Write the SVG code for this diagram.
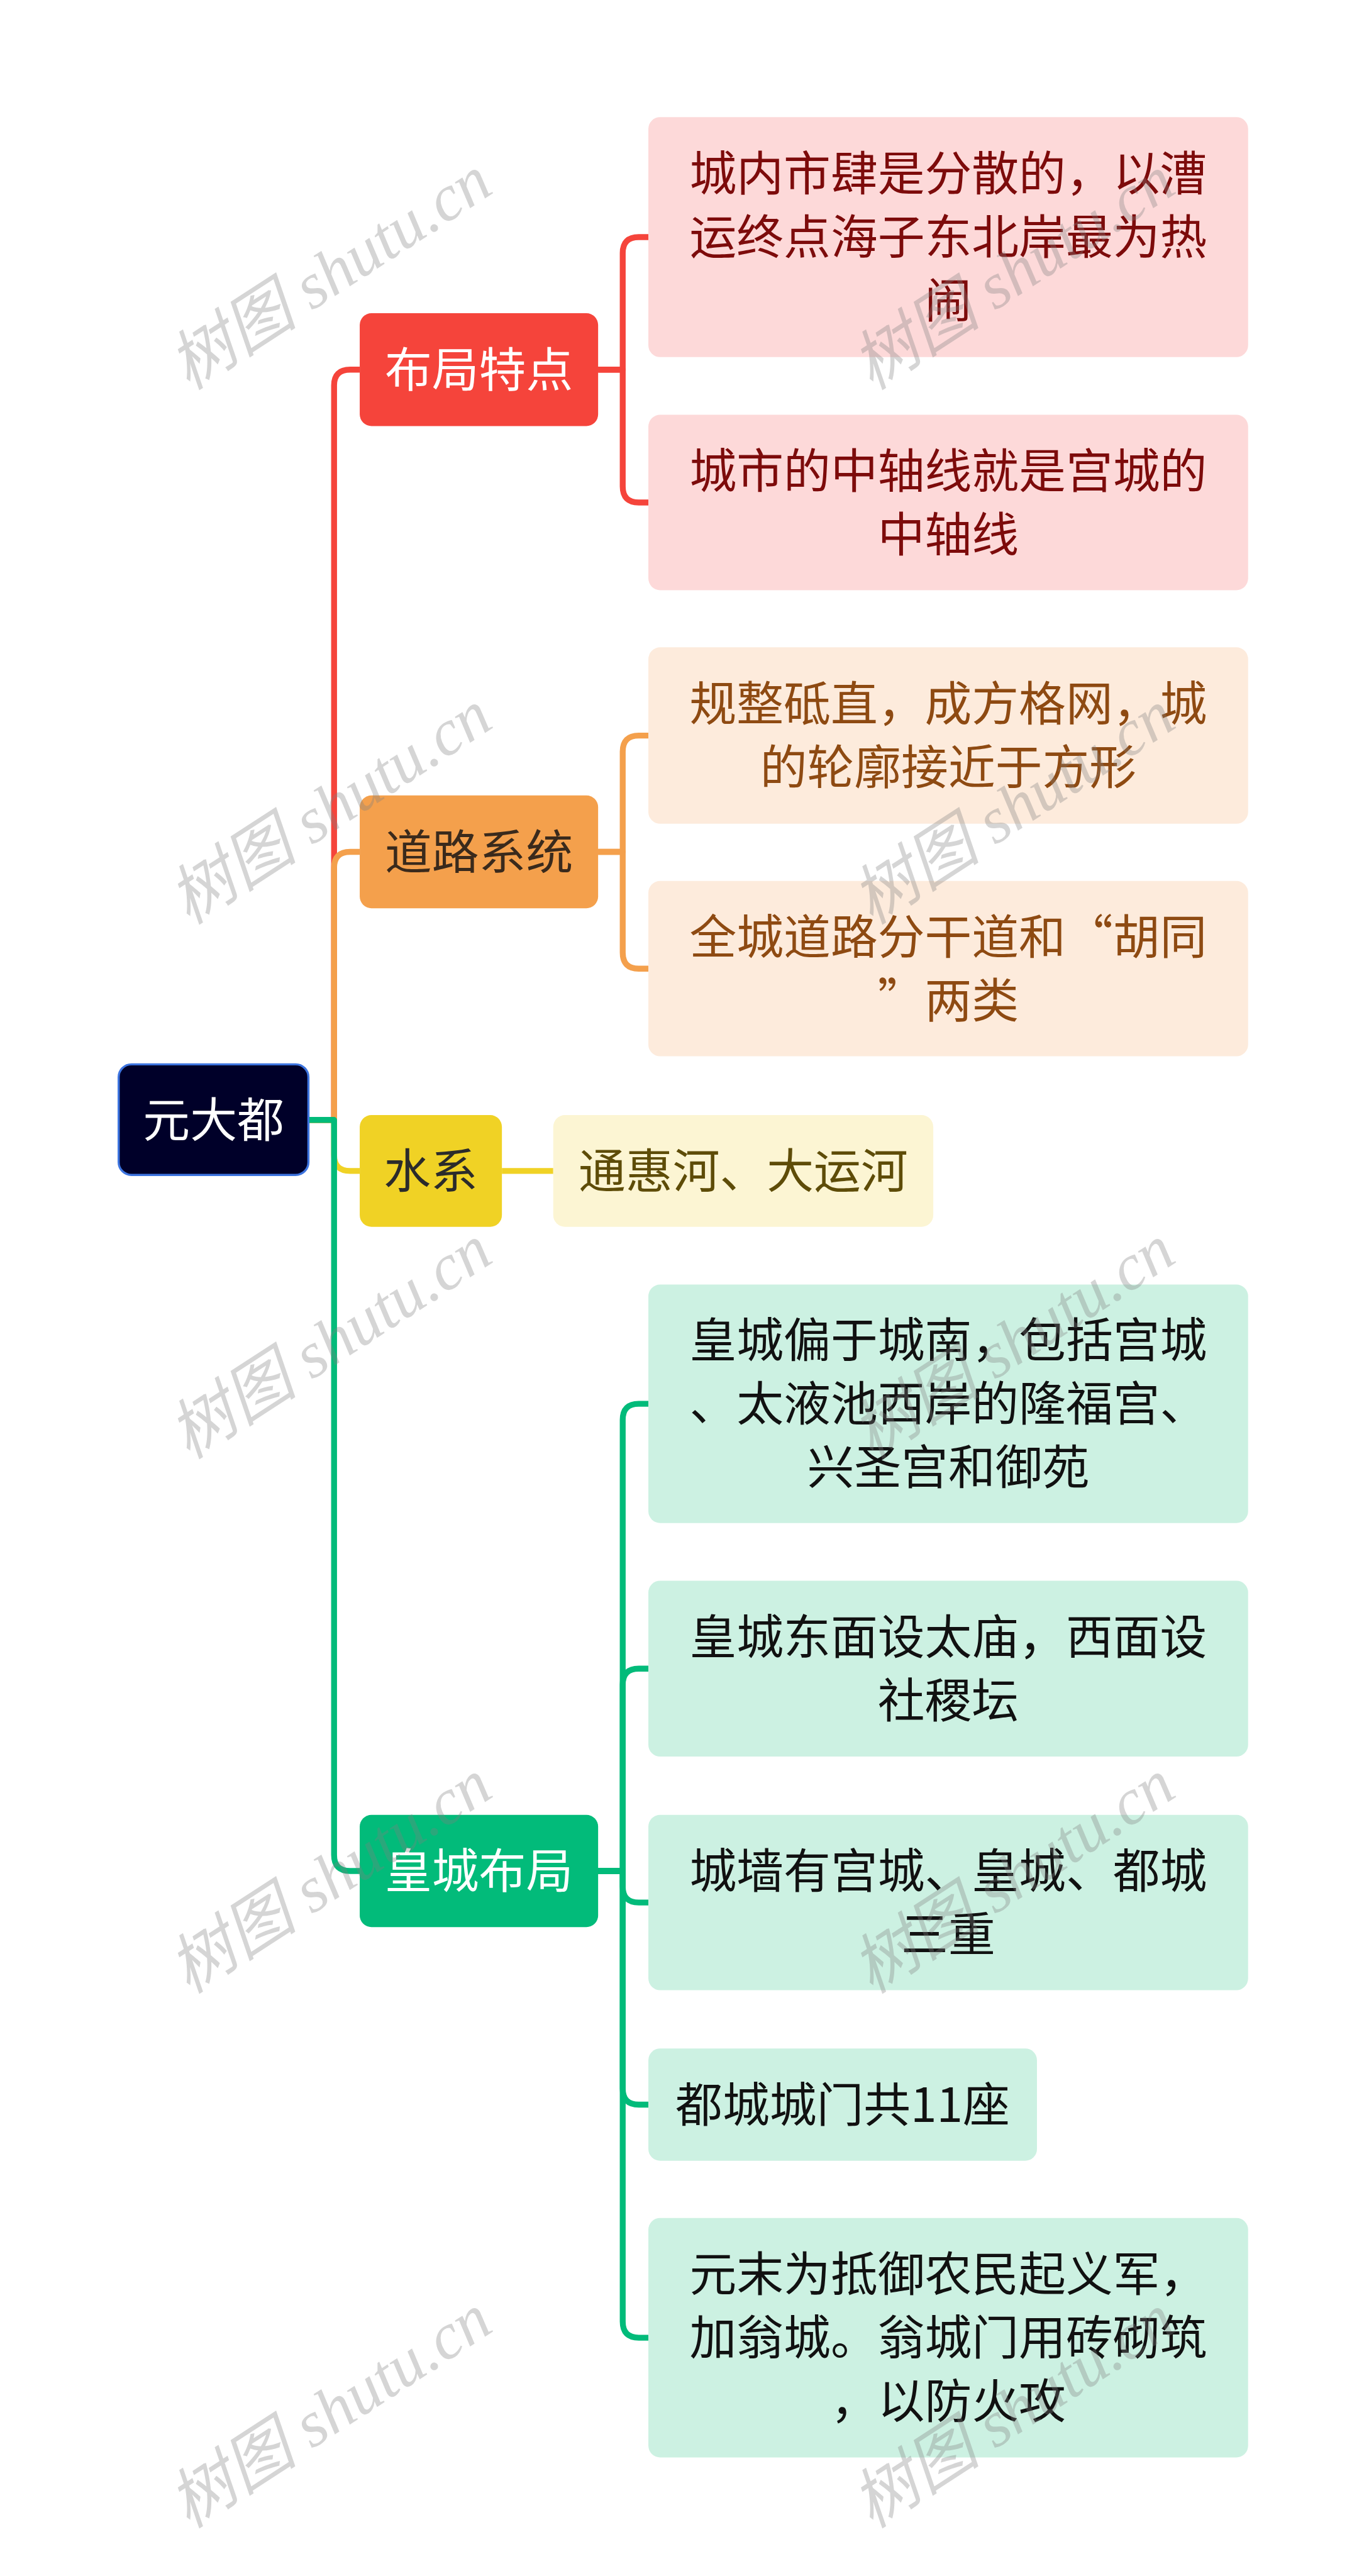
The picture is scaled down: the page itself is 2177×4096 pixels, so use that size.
<svg xmlns="http://www.w3.org/2000/svg" width="2177" height="4096" viewBox="0 0 2177 4096">
<style>
.t{font-family:"Noto Sans CJK SC","Noto Sans",sans-serif;font-size:88px;text-anchor:middle}
.c{fill:none;stroke-width:11;stroke-linejoin:round}
.wm{font-family:"Liberation Serif","Noto Sans CJK SC",serif;font-style:italic;font-size:122px;fill:#808080;fill-opacity:0.33;text-anchor:middle}
</style>
<rect width="2177" height="4096" fill="#ffffff"/>
<g transform="scale(0.85)">
<g id="connectors">
<path class="c" stroke="#F5443B" d="M578 2095H625V721Q625 691.5 655 691.5H673"/>
<path class="c" stroke="#F4A04C" d="M578 2095H625V1623.5Q625 1593.5 655 1593.5H673"/>
<path class="c" stroke="#F0D225" d="M578 2095H625V2160.5Q625 2190.5 655 2190.5H673"/>
<path class="c" stroke="#02BB7A" d="M578 2095H625V3470Q625 3500 655 3500H673"/>
<path class="c" stroke="#F5443B" d="M1119 691.5H1165V473.5Q1165 443.5 1195 443.5H1213"/>
<path class="c" stroke="#F5443B" d="M1119 691.5H1165V910Q1165 940 1195 940H1213"/>
<path class="c" stroke="#F4A04C" d="M1119 1593.5H1165V1406Q1165 1376 1195 1376H1213"/>
<path class="c" stroke="#F4A04C" d="M1119 1593.5H1165V1782Q1165 1812 1195 1812H1213"/>
<path class="c" stroke="#F0D225" d="M939 2190.5H1035"/>
<path class="c" stroke="#02BB7A" d="M1119 3500H1165V2656Q1165 2626 1195 2626H1213"/>
<path class="c" stroke="#02BB7A" d="M1119 3500H1165V3151.5Q1165 3121.5 1195 3121.5H1213"/>
<path class="c" stroke="#02BB7A" d="M1119 3500H1165V3529Q1165 3559 1195 3559H1213"/>
<path class="c" stroke="#02BB7A" d="M1119 3500H1165V3907Q1165 3937 1195 3937H1213"/>
<path class="c" stroke="#02BB7A" d="M1119 3500H1165V4343Q1165 4373 1195 4373H1213"/>
</g>
<g id="root">
<rect x="222" y="1991" width="355" height="207" rx="24" fill="#000029" stroke="#3D74DF" stroke-width="4"/>
<text class="t" x="399.5" y="2127" fill="#ffffff">元大都</text>
</g>
<g id="b1">
<rect x="673" y="586" width="446" height="211" rx="22" fill="#F5443B"/>
<text class="t" x="896" y="723.5" fill="#ffffff">布局特点</text>
</g>
<g id="b2">
<rect x="673" y="1488" width="446" height="211" rx="22" fill="#F4A04C"/>
<text class="t" x="896" y="1625.5" fill="#3A2A1C">道路系统</text>
</g>
<g id="b3">
<rect x="673" y="2086" width="266" height="209" rx="22" fill="#F0D225"/>
<text class="t" x="806" y="2222.5" fill="#2B2B2B">水系</text>
</g>
<g id="b4">
<rect x="673" y="3395" width="446" height="210" rx="22" fill="#02BB7A"/>
<text class="t" x="896" y="3532" fill="#ffffff">皇城布局</text>
</g>
<g id="l1">
<rect x="1213" y="219" width="1122" height="449" rx="22" fill="#FDD9D9"/>
<text class="t" x="1774" fill="#7D0B0B"><tspan x="1774" y="356.5">城内市肆是分散的，以漕</tspan><tspan x="1774" y="475.5">运终点海子东北岸最为热</tspan><tspan x="1774" y="594.5">闹</tspan></text>
</g>
<g id="l2">
<rect x="1213" y="776" width="1122" height="328" rx="22" fill="#FDD9D9"/>
<text class="t" x="1774" fill="#7D0B0B"><tspan x="1774" y="912.5">城市的中轴线就是宫城的</tspan><tspan x="1774" y="1031.5">中轴线</tspan></text>
</g>
<g id="l3">
<rect x="1213" y="1211" width="1122" height="330" rx="22" fill="#FDEBDC"/>
<text class="t" x="1774" fill="#8E4A12"><tspan x="1774" y="1348.5">规整砥直，成方格网，城</tspan><tspan x="1774" y="1467.5">的轮廓接近于方形</tspan></text>
</g>
<g id="l4">
<rect x="1213" y="1648" width="1122" height="328" rx="22" fill="#FDEBDC"/>
<text class="t" x="1774" fill="#8E4A12"><tspan x="1774" y="1784.5">全城道路分干道和“胡同</tspan><tspan x="1774" y="1903.5">”两类</tspan></text>
</g>
<g id="l5">
<rect x="1035" y="2086" width="711" height="209" rx="22" fill="#FCF5D3"/>
<text class="t" x="1390.5" y="2222.5" fill="#5E4C08">通惠河、大运河</text>
</g>
<g id="l6">
<rect x="1213" y="2403" width="1122" height="446" rx="22" fill="#CCF1E2"/>
<text class="t" x="1774" fill="#111111"><tspan x="1774" y="2539">皇城偏于城南，包括宫城</tspan><tspan x="1774" y="2658">、太液池西岸的隆福宫、</tspan><tspan x="1774" y="2777">兴圣宫和御苑</tspan></text>
</g>
<g id="l7">
<rect x="1213" y="2957" width="1122" height="329" rx="22" fill="#CCF1E2"/>
<text class="t" x="1774" fill="#111111"><tspan x="1774" y="3094">皇城东面设太庙，西面设</tspan><tspan x="1774" y="3213">社稷坛</tspan></text>
</g>
<g id="l8">
<rect x="1213" y="3395" width="1122" height="328" rx="22" fill="#CCF1E2"/>
<text class="t" x="1774" fill="#111111"><tspan x="1774" y="3531.5">城墙有宫城、皇城、都城</tspan><tspan x="1774" y="3650.5">三重</tspan></text>
</g>
<g id="l9">
<rect x="1213" y="3832" width="727" height="210" rx="22" fill="#CCF1E2"/>
<text class="t" x="1576.5" y="3969" fill="#111111">都城城门共11座</text>
</g>
<g id="l10">
<rect x="1213" y="4149" width="1122" height="448" rx="22" fill="#CCF1E2"/>
<text class="t" x="1774" fill="#111111"><tspan x="1774" y="4286">元末为抵御农民起义军，</tspan><tspan x="1774" y="4405">加翁城。翁城门用砖砌筑</tspan><tspan x="1774" y="4524">，以防火攻</tspan></text>
</g>
<g id="watermarks">
<text class="wm" transform="translate(640 545) rotate(-33)">树图 shutu.cn</text>
<text class="wm" transform="translate(1918 545) rotate(-33)">树图 shutu.cn</text>
<text class="wm" transform="translate(640 1545) rotate(-33)">树图 shutu.cn</text>
<text class="wm" transform="translate(1918 1545) rotate(-33)">树图 shutu.cn</text>
<text class="wm" transform="translate(640 2545) rotate(-33)">树图 shutu.cn</text>
<text class="wm" transform="translate(1918 2545) rotate(-33)">树图 shutu.cn</text>
<text class="wm" transform="translate(640 3545) rotate(-33)">树图 shutu.cn</text>
<text class="wm" transform="translate(1918 3545) rotate(-33)">树图 shutu.cn</text>
<text class="wm" transform="translate(640 4545) rotate(-33)">树图 shutu.cn</text>
<text class="wm" transform="translate(1918 4545) rotate(-33)">树图 shutu.cn</text>
</g>
</g>
</svg>
